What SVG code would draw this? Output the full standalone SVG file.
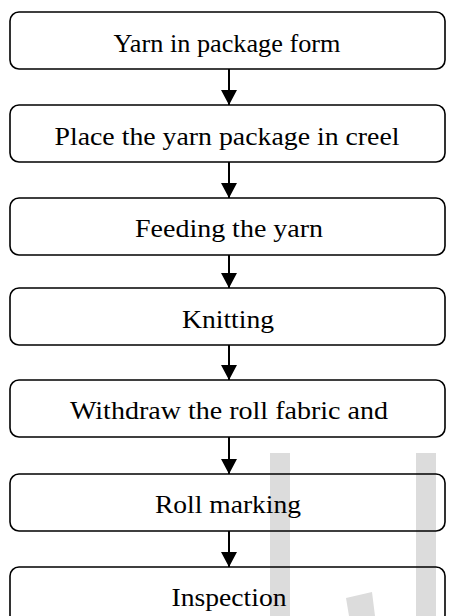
<svg xmlns="http://www.w3.org/2000/svg" width="449" height="616" viewBox="0 0 449 616">
  <style>
    .box { fill: none; stroke: #000; stroke-width: 1.6; }
    .label { font-family: "Liberation Serif", "Times New Roman", serif; font-size: 26px; fill: #000; text-anchor: middle; }
    .link { stroke: #000; stroke-width: 2; fill: none; marker-end: url(#head); }
    .mark { fill: #dcdcdc; }
  </style>
  <defs>
    <marker id="head" markerUnits="userSpaceOnUse" markerWidth="16" markerHeight="16" refX="15" refY="8" orient="auto">
      <path d="M0,0 L15,8 L0,16 z" fill="#000"/>
    </marker>
  </defs>

  <!-- faint background lettering -->
  <g id="backdrop">
    <rect class="mark" x="270" y="453" width="20" height="163"/>
    <rect class="mark" x="416" y="453" width="20" height="163"/>
    <polygon class="mark" points="346,598 372,592 375,616 349,616"/>
  </g>

  <g id="connectors">
    <path class="link" d="M229,69 V105"/>
    <path class="link" d="M229,162 V198"/>
    <path class="link" d="M229,255 V288"/>
    <path class="link" d="M229,345 V380"/>
    <path class="link" d="M229,437 V474"/>
    <path class="link" d="M229,531 V567"/>
  </g>

  <g id="step1">
    <rect class="box" x="10" y="12" width="435" height="57" rx="9"/>
    <text class="label" x="227" y="52" textLength="227" lengthAdjust="spacingAndGlyphs">Yarn in package form</text>
  </g>
  <g id="step2">
    <rect class="box" x="10" y="105" width="435" height="57" rx="9"/>
    <text class="label" x="227" y="145" textLength="345" lengthAdjust="spacingAndGlyphs">Place the yarn package in creel</text>
  </g>
  <g id="step3">
    <rect class="box" x="10" y="198" width="435" height="57" rx="9"/>
    <text class="label" x="229" y="237" textLength="188" lengthAdjust="spacingAndGlyphs">Feeding the yarn</text>
  </g>
  <g id="step4">
    <rect class="box" x="10" y="288" width="435" height="57" rx="9"/>
    <text class="label" x="228" y="328" textLength="92" lengthAdjust="spacingAndGlyphs">Knitting</text>
  </g>
  <g id="step5">
    <rect class="box" x="10" y="380" width="435" height="57" rx="9"/>
    <text class="label" x="229" y="419" textLength="318" lengthAdjust="spacingAndGlyphs">Withdraw the roll fabric and</text>
  </g>
  <g id="step6">
    <rect class="box" x="10" y="474" width="435" height="57" rx="9"/>
    <text class="label" x="228" y="513" textLength="146" lengthAdjust="spacingAndGlyphs">Roll marking</text>
  </g>
  <g id="step7">
    <rect class="box" x="10" y="567" width="435" height="57" rx="9"/>
    <text class="label" x="229" y="606" textLength="115" lengthAdjust="spacingAndGlyphs">Inspection</text>
  </g>
</svg>
